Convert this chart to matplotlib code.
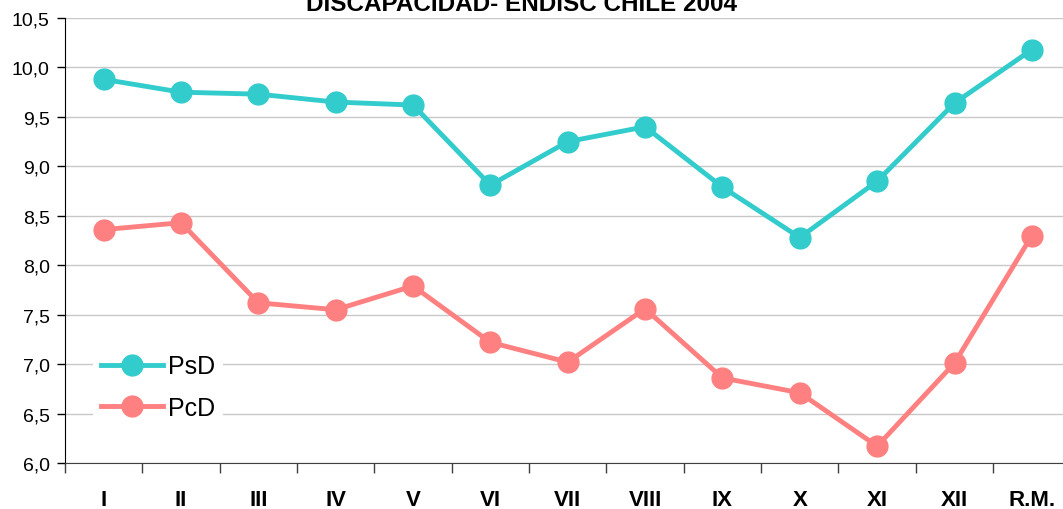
import numpy as np
import matplotlib
matplotlib.use('Agg')
import matplotlib.pyplot as plt

plt.rcParams['font.family'] = ['Liberation Sans', 'DejaVu Sans']

regiones = ['I', 'II', 'III', 'IV', 'V', 'VI', 'VII', 'VIII', 'IX', 'X', 'XI', 'XII', 'R.M.']
psd = [9.88, 9.75, 9.73, 9.65, 9.62, 8.81, 9.25, 9.40, 8.79, 8.28, 8.85, 9.64, 10.18]
pcd = [8.36, 8.43, 7.62, 7.55, 7.79, 7.22, 7.02, 7.56, 6.86, 6.71, 6.17, 7.01, 8.30]
yticks = [6.0, 6.5, 7.0, 7.5, 8.0, 8.5, 9.0, 9.5, 10.0, 10.5]

fig = plt.figure(figsize=(10.63, 5.10), dpi=100)
ax = fig.add_axes([0.0611, 0.0902, 0.946, 0.8725])

x = np.arange(len(regiones))
ax.plot(x, psd, color='#33CCCC', lw=3.5, marker='o', ms=15, label='PsD', zorder=3)
ax.plot(x, pcd, color='#FF8080', lw=3.5, marker='o', ms=15, label='PcD', zorder=3)

ax.set_xlim(-0.5, len(regiones) - 0.5)
ax.set_ylim(6.0, 10.5)
ax.set_yticks(yticks)
ax.set_yticklabels([f'{v:.1f}'.replace('.', ',') for v in yticks], fontsize=14)
ax.yaxis.grid(True, color='#C8C8C8', lw=1)
ax.set_axisbelow(True)

# categorias con ticks entre ellas
ax.set_xticks(np.arange(-0.5, len(regiones), 1.0))
ax.set_xticklabels([])
ax.set_xticks(x, minor=True)
ax.set_xticklabels(regiones, minor=True, fontsize=16, fontweight='bold')
ax.tick_params(axis='x', which='major', length=7, width=1, color='#404040', direction='out')
ax.tick_params(axis='x', which='minor', length=0, pad=19)
ax.tick_params(axis='y', length=6, width=1, direction='out', pad=5)

for s in ['top', 'right']:
    ax.spines[s].set_visible(False)
ax.spines['left'].set_color('black')
ax.spines['bottom'].set_color('#404040')

# titulo cortado arriba como en el original
fig.text(522 / 1063, (510 - 11) / 510, 'DISCAPACIDAD- ENDISC CHILE 2004',
         fontsize=17.5, fontweight='bold', ha='center', va='baseline')

leg = ax.legend(loc='lower left', bbox_to_anchor=(0.028, 0.08), fontsize=18, frameon=True,
                framealpha=1, edgecolor='white', handlelength=2.5, borderpad=0.3,
                labelspacing=0.7, handletextpad=0.2, borderaxespad=0)
leg.get_frame().set_linewidth(0)

fig.savefig('out.png', dpi=100)
